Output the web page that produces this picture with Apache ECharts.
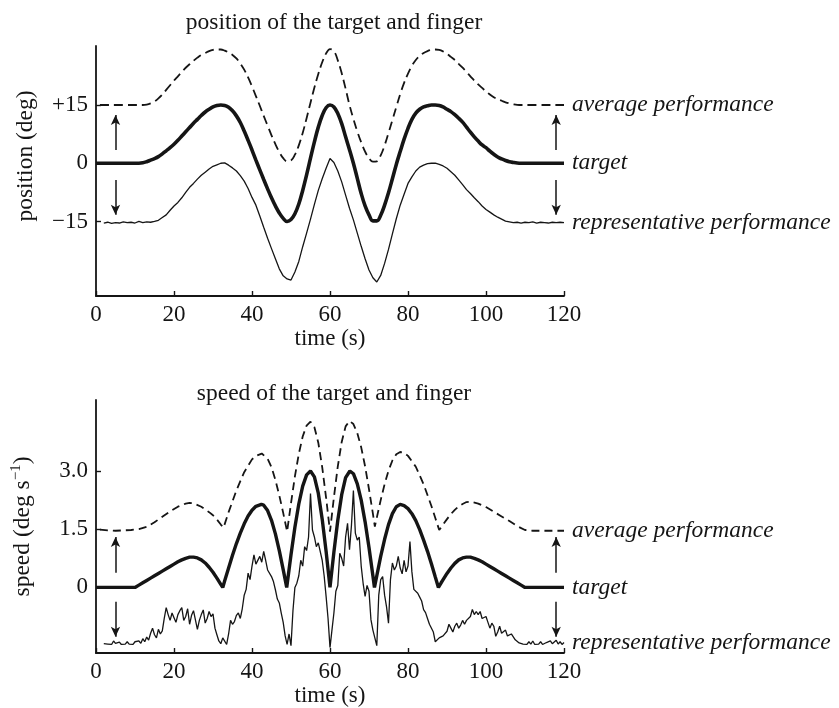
<!DOCTYPE html>
<html>
<head>
<meta charset="utf-8">
<script src="https://cdn.jsdelivr.net/npm/echarts@6.0.0/dist/echarts.min.js"></script>
<style>
  html, body { margin: 0; padding: 0; background: #fff; }
  #chart { width: 839px; height: 708px; }
</style>
</head>
<body>
<div id="chart"></div>
<script>
// ---------------- DATA ----------------
const timeTicks = [0, 20, 40, 60, 80, 100, 120];

// position panel (deg); regular sampling: start time + step (s)
const posTickValues = [-15, 0, 15];
const posTickLabels = ['\u221215', '0', '+15'];

const posTargetStart = 0, posTargetStep = 1;
const posTarget = [
  0,0,0,0,0,0,0,0,0,0,
  0,0,0.1,0.4,0.8,1.2,1.7,2.4,3.2,4.0,
  4.9,5.9,7.0,8.1,9.2,10.3,11.3,12.3,13.2,13.9,
  14.5,14.85,15.0,14.9,14.4,13.5,12.2,10.5,8.3,5.9,
  3.4,0.8,-1.7,-4.2,-6.6,-8.9,-11.0,-12.8,-14.2,-15.0,
  -14.5,-13.0,-10.5,-7.0,-3.0,1.3,5.5,9.3,12.3,14.3,
  15.0,14.5,12.8,10.2,6.8,3.5,0.0,-3.9,-7.8,-11.0,
  -13.3,-14.85,-14.85,-13.4,-10.8,-7.6,-4.0,-0.3,3.0,6.2,
  9.0,11.3,12.9,13.9,14.5,14.8,15.0,15.0,14.9,14.5,
  13.9,13.3,12.5,11.6,10.6,9.3,8.0,6.8,5.7,4.7,
  4.0,3.1,2.3,1.6,1.1,0.7,0.4,0.2,0.05,0,
  0,0,0,0,0,0,0,0,0,0,
  0
];

const posAverageStart = 1, posAverageStep = 1;
const posAverage = [
  15,15,15,15,15,15,15,15,15,15,
  15,15,15.1,15.4,15.9,16.7,17.7,18.9,20.1,21.3,
  22.4,23.5,24.6,25.5,26.4,27.2,27.9,28.4,28.9,29.2,
  29.3,29.3,29.0,28.5,27.9,27.0,25.7,24.1,22.1,19.8,
  17.3,14.8,12.2,9.7,7.2,4.9,2.9,1.3,0.5,0.7,
  2.2,4.6,7.8,11.6,15.6,19.5,23.0,26.0,28.3,29.4,
  28.9,26.5,23.2,19.2,15.0,11.4,8.2,5.4,3.0,1.3,
  0.4,0.5,2.0,4.6,7.8,11.1,14.5,17.8,20.7,23.1,
  25.1,26.6,27.7,28.4,28.9,29.2,29.3,29.2,28.8,28.2,
  27.4,26.6,25.6,24.6,23.5,22.4,21.3,20.3,19.4,18.5,
  17.7,17.0,16.5,16.1,15.7,15.4,15.2,15.05,15,15,
  15,15,15,15,15,15,15,15,15,15
];

const posRepStart = 2, posRepStep = 1;
const posRep = [
  -15.4,-15.2,-15.5,-15.3,-15.4,-15.1,-15.3,-15.2,-15.4,-15.0,
  -15.3,-15.1,-15.2,-15.0,-14.7,-14.0,-13.3,-12.1,-11.0,-10.1,
  -8.9,-7.5,-6.2,-5.2,-4.1,-3.1,-2.3,-1.5,-0.8,-0.4,
  0.0,0.1,-0.5,-1.2,-2.0,-3.2,-4.6,-6.5,-8.8,-10.8,
  -13.6,-16.5,-19.3,-22.0,-24.6,-27.2,-29.0,-29.8,-30.1,-28.0,
  -25.3,-21.5,-18.0,-14.4,-10.6,-7.0,-4.0,-1.3,1.2,0.2,
  -2.0,-4.8,-8.2,-11.6,-14.6,-18.0,-21.4,-24.6,-27.5,-29.5,
  -30.6,-28.9,-25.8,-22.2,-18.2,-14.3,-10.8,-8.0,-5.2,-3.5,
  -2.0,-1.0,-0.5,-0.1,0.0,0.0,-0.3,-0.7,-1.3,-2.2,
  -3.1,-4.3,-5.5,-6.8,-7.8,-8.9,-9.9,-11.0,-11.9,-12.6,
  -13.3,-13.9,-14.4,-14.9,-15.1,-15.3,-15.2,-15.4,-15.2,-15.3,
  -15.1,-15.4,-15.2,-15.3,-15.4,-15.2,-15.3,-15.2,-15.3
];

// arrows: [time, from, to] in data units
const posArrows = [[5, 3.4, 12.4], [5, -4.3, -13.3], [118, 3.4, 12.4], [118, -4.3, -13.3]];

// speed panel (deg/s)
const speedTickValues = [0, 1.5, 3.0];
const speedTickLabels = ['0', '1.5', '3.0'];

const speedTargetPts = [
  [0,0],[10,0],[11,0.06],[12,0.12],[13,0.18],[14,0.24],[15,0.30],[16,0.36],[17,0.42],[18,0.48],[19,0.54],[20,0.60],
  [21,0.66],[22,0.71],[23,0.75],[24,0.78],[25,0.78],[26,0.76],[27,0.71],[28,0.63],[29,0.52],[30,0.39],[31,0.24],[32,0.08],[32.5,0],
  [33,0.17],[34,0.50],[35,0.83],[36,1.13],[37,1.40],[38,1.64],[39,1.84],[40,1.99],[41,2.09],[42.4,2.14],[43,2.12],[44,1.98],
  [45,1.73],[46,1.38],[47,0.95],[48,0.46],[48.9,0],
  [50,0.84],[51,1.55],[52,2.15],[53,2.61],[54,2.90],[55,3.0],[56,2.85],[57,2.43],[58,1.76],[59,0.93],[60,0],
  [61,0.91],[62,1.73],[63,2.39],[64,2.83],[65.1,3.0],[66,2.93],[67,2.67],[68,2.25],[69,1.69],[70,1.03],[71,0.30],[71.4,0],
  [72,0.30],[73,0.80],[74,1.24],[75,1.62],[76,1.90],[77,2.08],[78,2.14],[79,2.11],[80,2.03],[81,1.90],[82,1.72],[83,1.49],
  [84,1.22],[85,0.93],[86,0.61],[87,0.27],[87.8,0],
  [88.5,0.12],[89,0.20],[90,0.36],[91,0.50],[92,0.62],[93,0.71],[94,0.76],[95,0.78],[96,0.78],[97,0.75],[98,0.71],[99,0.66],
  [100,0.60],[101,0.54],[102,0.48],[103,0.42],[104,0.36],[105,0.30],[106,0.24],[107,0.18],[108,0.12],[109,0.06],[110,0],[120,0]
];

const speedAverageT = [1,3,5,7,9,11, 13,15,17,19,21,23, 24,25,27,29,30,31, 32,32.7,34,36,38,40, 41,42.5,44,45,46,47,
  48,49,50,51,52,53, 54,55,56,57,58,59, 60,61,62,63,64,65, 66,67,68,69,70,71, 71.5,72,73,74,75,76,
  77,78,79,80,82,84, 86,87,88,89,90,91, 92,93,94,95,96,98, 100,102,104,106,108,110, 112,120];
const speedAverageV = [1.49,1.47,1.46,1.47,1.48,1.50, 1.56,1.68,1.82,1.96,2.08,2.16, 2.18,2.17,2.08,1.94,1.86,1.75,
  1.62,1.54,1.94,2.50,2.97,3.30, 3.39,3.45,3.32,3.10,2.77,2.37, 1.92,1.44,2.17,2.86,3.44,3.89,
  4.17,4.27,4.13,3.73,3.10,2.31, 1.44,2.32,3.12,3.75,4.15,4.29, 4.21,3.98,3.61,3.12,2.53,1.90,
  1.57,1.80,2.25,2.66,3.01,3.27, 3.43,3.49,3.47,3.39,3.11,2.66, 2.10,1.79,1.48,1.62,1.76,1.89,
  2.00,2.09,2.15,2.20,2.21,2.16, 2.07,1.95,1.83,1.71,1.58,1.48, 1.46,1.46];

const speedRepStart = 2, speedRepStep = 0.5;
const speedRep = [
  -1.45,-1.40,-1.46,-1.42,-1.47,-1.38,-1.44,-1.46,-1.41,-1.47,
  -1.43,-1.46,-1.40,-1.46,-1.44,-1.47,-1.40,-1.45,-1.38,-1.44,
  -1.32,-1.40,-1.28,-1.36,-1.18,-1.05,-1.22,-1.30,-1.08,-1.20,
  -1.12,-0.80,-0.52,-0.70,-0.85,-0.66,-0.78,-0.90,-0.70,-0.60,
  -0.52,-0.85,-0.75,-0.55,-0.95,-0.72,-0.60,-0.62,-1.08,-0.85,
  -0.70,-0.58,-0.92,-0.80,-0.62,-0.75,-0.68,-1.05,-1.22,-1.38,
  -1.45,-1.30,-1.26,-1.47,-1.20,-0.85,-0.95,-0.88,-0.72,-0.66,
  -0.80,-0.55,-0.20,-0.05,0.37,0.20,0.55,0.84,0.60,0.55,
  0.80,0.65,0.93,0.70,0.45,0.50,0.28,0.15,-0.06,-0.30,
  -0.40,-0.66,-0.90,-1.25,-1.47,-1.20,-1.50,-0.60,0.00,0.11,
  0.30,0.70,0.55,1.05,0.95,1.30,2.42,1.48,1.30,1.05,
  1.15,1.10,0.70,0.30,-0.23,-0.80,-1.55,-1.10,-0.66,-0.10,
  0.05,0.88,0.75,0.55,1.30,1.65,0.97,1.60,2.50,1.40,
  1.22,1.30,0.55,0.10,-0.23,0.05,-0.10,-0.83,-1.10,-1.30,
  -1.50,-0.20,0.20,0.28,-0.20,-0.50,-0.92,0.20,0.63,0.45,
  0.55,0.80,0.50,0.35,0.70,0.40,0.55,1.18,0.40,-0.05,
  0.00,-0.15,-0.25,-0.35,-0.57,-0.65,-0.80,-0.95,-1.00,-1.15,
  -1.40,-1.43,-1.30,-1.35,-1.25,-1.28,-1.13,-0.95,-1.05,-1.15,
  -1.00,-0.92,-1.05,-0.97,-0.85,-0.95,-0.85,-0.90,-0.75,-0.57,
  -0.70,-0.62,-0.70,-0.62,-0.80,-0.83,-0.75,-0.90,-1.05,-0.92,
  -1.00,-1.26,-1.15,-1.00,-1.18,-1.15,-1.10,-1.25,-1.28,-1.20,
  -1.22,-1.35,-1.30,-1.43,-1.40,-1.46,-1.42,-1.47,-1.40,-1.46,
  -1.38,-1.47,-1.43,-1.46,-1.40,-1.47,-1.44,-1.42,-1.47,-1.38,
  -1.45,-1.42,-1.36,-1.46,-1.40,-1.47,-1.42
];

const speedArrows = [[5, 0.38, 1.30], [5, -0.37, -1.27], [118, 0.38, 1.30], [118, -0.37, -1.27]];

// ---------------- BUILD ----------------
const FONT = '"Liberation Serif", "Times New Roman", serif';
const INK = '#151515';
const FS = 23;        // tick and axis-name text
const FS_T = 23.5;    // titles and curve labels

function sampled(start, step, vals) { return vals.map((v, i) => [start + i * step, v]); }
function zipped(ts, vs) { return ts.map((t, i) => [t, vs[i]]); }
function arrowData(arr) {
  return arr.map(a => [{ coord: [a[0], a[1]] }, { coord: [a[0], a[2]] }]);
}

function endLabel(name) {
  return {
    show: true, formatter: () => name, distance: 8,
    color: INK, fontFamily: FONT, fontStyle: 'italic', fontSize: FS_T
  };
}

function arrowMark(arr) {
  return {
    silent: true, animation: false,
    symbol: ['none', 'arrow'], symbolSize: [7, 10],
    lineStyle: { color: INK, width: 1.5, type: 'solid' },
    label: { show: false },
    emphasis: { disabled: true },
    data: arrowData(arr)
  };
}

function xAxisCfg(gridIndex) {
  return {
    type: 'value', gridIndex, min: 0, max: 120, interval: 20,
    name: 'time (s)', nameLocation: 'middle', nameGap: 31,
    nameTextStyle: { fontFamily: FONT, fontSize: FS, color: INK },
    axisLine: { show: true, onZero: false, lineStyle: { color: INK, width: 1.8 } },
    axisTick: { show: true, inside: true, length: 5, lineStyle: { color: INK, width: 1.4 } },
    axisLabel: { fontFamily: FONT, fontSize: FS, color: INK, margin: 7 },
    splitLine: { show: false }
  };
}

function yAxisCfg(gridIndex, min, max, tickVals, tickLabels, name, gap, extraName) {
  return Object.assign({
    type: 'value', gridIndex, min, max,
    name, nameLocation: 'middle', nameGap: gap,
    axisLine: { show: true, onZero: false, lineStyle: { color: INK, width: 1.8 } },
    axisTick: { show: true, inside: true, length: 5, customValues: tickVals, lineStyle: { color: INK, width: 1.4 } },
    axisLabel: {
      fontFamily: FONT, fontSize: FS, color: INK, margin: 8,
      customValues: tickVals,
      formatter: v => tickLabels[tickVals.indexOf(v)]
    },
    splitLine: { show: false }
  }, extraName);
}

const option = {
  animation: false,
  backgroundColor: '#fff',
  title: [
    { text: 'position of the target and finger', left: 329, top: 6, textAlign: 'center',
      textStyle: { fontFamily: FONT, fontSize: FS_T, fontWeight: 'normal', color: INK } },
    { text: 'speed of the target and finger', left: 329, top: 377, textAlign: 'center',
      textStyle: { fontFamily: FONT, fontSize: FS_T, fontWeight: 'normal', color: INK } }
  ],
  grid: [
    { left: 96, top: 46, width: 468, height: 250 },
    { left: 96, top: 400, width: 468, height: 253 }
  ],
  xAxis: [xAxisCfg(0), xAxisCfg(1)],
  yAxis: [
    yAxisCfg(0, -34.2, 30.2, posTickValues, posTickLabels, 'position (deg)', 58, {
      nameTextStyle: { fontFamily: FONT, fontSize: FS_T, color: INK, padding: [0, 0, 0, 30] }
    }),
    yAxisCfg(1, -1.69, 4.83, speedTickValues, speedTickLabels, 'speed (deg s{sup|\u22121})', 60, {
      nameTextStyle: {
        fontFamily: FONT, fontSize: FS_T, color: INK,
        rich: { sup: { fontFamily: FONT, fontSize: 15, color: INK, padding: [0, 0, 12, 0] } }
      }
    })
  ],
  series: [
    { name: 'average performance', type: 'line', xAxisIndex: 0, yAxisIndex: 0,
      data: sampled(posAverageStart, posAverageStep, posAverage), showSymbol: false, symbol: 'none', smooth: 0.4,
      lineStyle: { color: INK, width: 1.8, type: [9, 5] }, endLabel: endLabel('average performance') },
    { name: 'target', type: 'line', xAxisIndex: 0, yAxisIndex: 0,
      data: sampled(posTargetStart, posTargetStep, posTarget), showSymbol: false, symbol: 'none', smooth: 0.4,
      lineStyle: { color: INK, width: 3.6 }, endLabel: endLabel('target'), markLine: arrowMark(posArrows) },
    { name: 'representative performance', type: 'line', xAxisIndex: 0, yAxisIndex: 0,
      data: sampled(posRepStart, posRepStep, posRep), showSymbol: false, symbol: 'none',
      lineStyle: { color: INK, width: 1.3 }, endLabel: endLabel('representative performance') },

    { name: 'average performance ', type: 'line', xAxisIndex: 1, yAxisIndex: 1,
      data: zipped(speedAverageT, speedAverageV), showSymbol: false, symbol: 'none',
      lineStyle: { color: INK, width: 1.8, type: [8, 5] }, endLabel: endLabel('average performance') },
    { name: 'target ', type: 'line', xAxisIndex: 1, yAxisIndex: 1,
      data: speedTargetPts, showSymbol: false, symbol: 'none',
      lineStyle: { color: INK, width: 3.4 }, endLabel: endLabel('target'), markLine: arrowMark(speedArrows) },
    { name: 'representative performance ', type: 'line', xAxisIndex: 1, yAxisIndex: 1,
      data: sampled(speedRepStart, speedRepStep, speedRep), showSymbol: false, symbol: 'none',
      lineStyle: { color: INK, width: 1.3 }, endLabel: endLabel('representative performance') }
  ]
};

const chart = echarts.init(document.getElementById('chart'), null, { renderer: 'canvas' });
chart.setOption(option);
</script>
</body>
</html>
